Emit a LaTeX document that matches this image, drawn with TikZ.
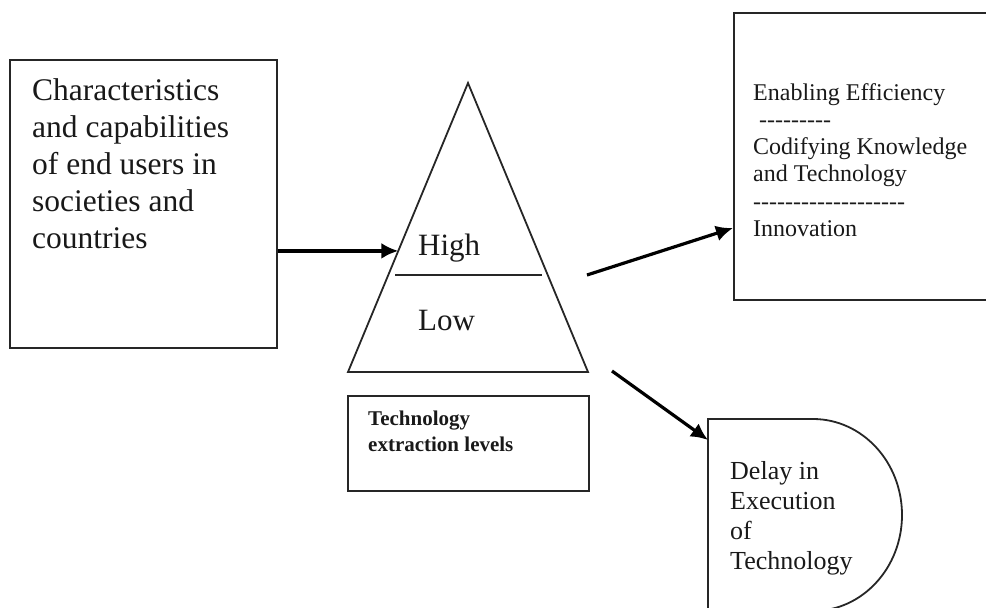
\documentclass[tikz,border=0pt]{standalone}
\usepackage{fontspec}
\setmainfont{Liberation Serif}
\usetikzlibrary{arrows.meta}
\newcommand\dashrow[1]{\foreach \k in {1,...,#1}{\mbox{-}}}
\begin{document}
\begin{tikzpicture}[x=1pt,y=-1pt,
  box/.style={draw=black!85, line width=1.8pt, inner sep=0pt, anchor=north west},
  shp/.style={draw=black!85, line width=1.8pt},
  arr/.style={line width=3.2pt, -{Latex[length=17pt,width=16pt]}},
  txt/.style={anchor=base west, inner sep=0pt, text=black!90}]
\useasboundingbox (0,0) rectangle (986,608);
\clip (0,0) rectangle (986,608);
% boxes
\node[box, minimum width=267pt, minimum height=288pt] (ch) at (9,59) {};
\node[box, minimum width=280pt, minimum height=287pt] (rb) at (733,12) {};
\node[box, minimum width=241pt, minimum height=95pt] (tel) at (347,395) {};
% triangle
\coordinate (apex) at (468,83);
\coordinate (bl) at (348,372);
\coordinate (br) at (588,372);
\draw[shp] (apex) -- (br) -- (bl) -- cycle;
\coordinate (dl) at (395,275);
\coordinate (dr) at (542,275);
\draw[shp] (dl) -- (dr);
% delay shape
\coordinate (dtop) at (708,419);
\draw[shp] (708,620) -- (dtop) -- (813,419) arc[start angle=90, end angle=-90, x radius=89pt, y radius=96pt] -- (708,611);
% texts
\node[txt, font=\fontsize{31.5}{37}\selectfont] (chtxt) at (32,100)
  {\parbox[t]{240pt}{Characteristics\\and capabilities\\of end users in\\societies and\\countries}};
\node[txt, font=\fontsize{31}{37}\selectfont] (hi) at (418,255) {High};
\node[txt, font=\fontsize{31}{37}\selectfont] (lo) at (418,330) {Low};
\node[txt, font=\bfseries\fontsize{21}{26}\selectfont] (teltxt) at (368,425)
  {\parbox[t]{210pt}{Technology\\extraction levels}};
\node[txt, font=\fontsize{24}{27.3}\selectfont] (rbtxt) at (753,100)
  {\parbox[t]{230pt}{Enabling Efficiency\\\hspace*{6pt}\dashrow{9}\\Codifying Knowledge\\and Technology\\\dashrow{19}\\Innovation}};
\node[txt, font=\fontsize{26}{30.3}\selectfont] (dtxt) at (730,479)
  {\parbox[t]{160pt}{Delay in\\Execution\\of\\Technology}};
% connectors
\path (apex) -- (bl) coordinate[pos=0.581] (tin);
\draw[arr] (ch.east |- tin) -- (tin);
\coordinate (s1) at (587,275);
\draw[arr] (s1) -- (rb.north west |- 0,228);
\coordinate (s2) at (612,371);
\draw[arr] (s2) -- (dtop |- 0,440);
\end{tikzpicture}
\end{document}
